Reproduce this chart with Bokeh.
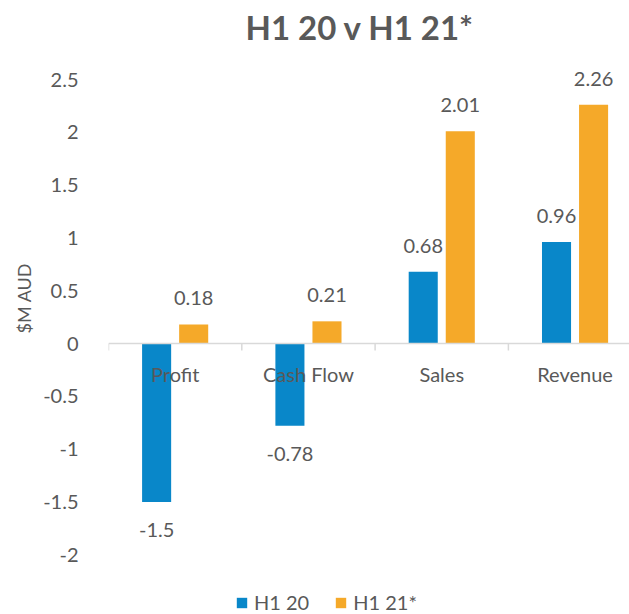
from bokeh.plotting import figure
from bokeh.models import (ColumnDataSource, Range1d, FixedTicker, Span, Legend, LegendItem, Title)
from bokeh.transform import dodge
from bokeh.core.properties import value
from bokeh.embed import file_html
from bokeh.resources import INLINE

categories = ["Profit", "Cash Flow", "Sales", "Revenue"]
h1_20 = [-1.5, -0.78, 0.68, 0.96]
h1_21 = [0.18, 0.21, 2.01, 2.26]
series_names = ["H1 20", "H1 21*"]
y_ticks = [-2, -1.5, -1, -0.5, 0, 0.5, 1, 1.5, 2, 2.5]

BLUE = "#0987C9"
ORANGE = "#F5A929"
TEXT = "#595959"
FONT = "Lato"

# layout (pixels)
W, H = 629, 614
LEFT, TOP = 108, 50
ZERO_PX = 343          # page row of the value 0
PX_UNIT = 105.6        # pixels per 1.0 on the value axis
CAT_PX = 133.3         # pixels per category
x_end = (W - LEFT) / CAT_PX
y_start = -(H - ZERO_PX) / PX_UNIT
y_end = (ZERO_PX - TOP) / PX_UNIT

xc = [i + 0.5 for i in range(len(categories))]

def fmt(v):
    return "%g" % v

src = ColumnDataSource(dict(
    x=xc, cat=categories, a=h1_20, b=h1_21,
    a_lbl=[fmt(v) for v in h1_20], b_lbl=[fmt(v) for v in h1_21],
    a_off=[-26 if v >= 0 else 28 for v in h1_20],
    b_off=[-26 if v >= 0 else 28 for v in h1_21],
))

p = figure(width=W, height=H, output_backend="svg", toolbar_location=None,
           x_range=Range1d(0, x_end), y_range=Range1d(y_start, y_end),
           min_border_left=LEFT, min_border_right=0, min_border_top=TOP,
           min_border_bottom=0)
p.outline_line_color = None
p.xgrid.visible = False
p.ygrid.visible = False
p.xaxis.visible = False

p.title.text = "H1 20 v H1 21*"
p.title.align = "left"
p.title.offset = 137
p.title.text_font = FONT
p.title.text_font_style = "bold"
p.title.text_font_size = "33px"
p.title.text_color = TEXT
p.title.standoff = 8

ya = p.yaxis[0]
ya.ticker = FixedTicker(ticks=y_ticks)
ya.major_label_overrides = {t: ("%g" % t) for t in y_ticks}
ya.axis_line_color = None
ya.major_tick_line_color = None
ya.minor_tick_line_color = None
ya.major_label_text_font = FONT
ya.major_label_text_font_size = "20px"
ya.major_label_text_color = TEXT
ya.major_label_standoff = 24

# value-axis title, positioned along the axis like the reference
ytitle = Title(text="$M AUD", align="left", offset=H - 333, standoff=12,
               text_font=FONT, text_font_size="18px", text_font_style="normal",
               text_color=TEXT)
p.add_layout(ytitle, "left")

# zero line and category separator ticks
p.add_layout(Span(location=0, dimension="width", line_color="#D9D9D9", line_width=1.5))
bounds = list(range(len(categories) + 1))
p.segment(x0=bounds, y0=[0] * len(bounds), x1=bounds, y1=[-7 / PX_UNIT] * len(bounds),
          line_color="#D9D9D9", line_width=1.5)

r1 = p.vbar(x=dodge("x", -0.139, range=p.x_range), top="a", bottom=0, width=0.218,
            source=src, fill_color=BLUE, line_color=None)
r2 = p.vbar(x=dodge("x", 0.139, range=p.x_range), top="b", bottom=0, width=0.218,
            source=src, fill_color=ORANGE, line_color=None)

p.text(x=dodge("x", -0.139, range=p.x_range), y="a", text="a_lbl", y_offset="a_off",
       source=src, text_align="center", text_baseline="alphabetic",
       text_font=value(FONT), text_font_size="20px", text_color=TEXT)
p.text(x=dodge("x", 0.139, range=p.x_range), y="b", text="b_lbl", y_offset="b_off",
       source=src, text_align="center", text_baseline="alphabetic",
       text_font=value(FONT), text_font_size="20px", text_color=TEXT)

p.text(x="x", y=0, text="cat", y_offset=30, source=src, text_align="center",
       text_baseline="alphabetic", text_font=value(FONT), text_font_size="20px",
       text_color=TEXT)

legend = Legend(items=[LegendItem(label=series_names[0], renderers=[r1]),
                       LegendItem(label=series_names[1], renderers=[r2])],
                orientation="horizontal", location=(127, 0),
                glyph_width=13, glyph_height=13, label_standoff=6, spacing=25,
                padding=0, margin=0, border_line_color=None, background_fill_alpha=0,
                label_text_font=FONT, label_text_font_size="20px", label_text_color=TEXT)
p.add_layout(legend, "center")

open("out.html", "w").write(file_html(p, INLINE))
